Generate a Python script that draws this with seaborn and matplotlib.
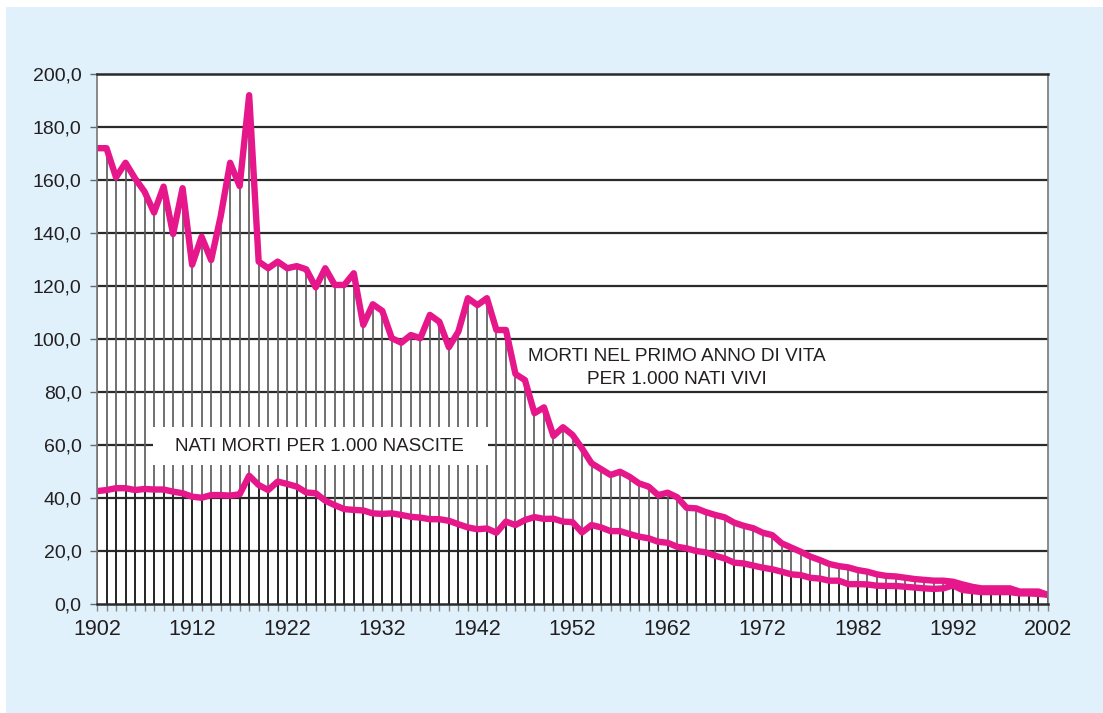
import numpy as np
import pandas as pd
import matplotlib
matplotlib.use("Agg")
import matplotlib.pyplot as plt
from matplotlib.patches import Rectangle
import seaborn as sns

years = list(range(1902, 2003))

infant_mortality = [
    172.0, 172.0, 161.0, 166.5, 160.6, 155.6, 147.7, 157.5, 139.6, 156.9,
    128.0, 138.6, 129.8, 146.2, 166.5, 157.7, 192.0, 129.2, 126.7, 129.2,
    126.7, 127.5, 126.3, 119.5, 126.7, 120.4, 120.4, 124.8, 105.3, 113.1,
    110.6, 100.3, 98.6, 101.5, 100.3, 109.1, 106.5, 96.9, 102.8, 115.4,
    112.8, 115.4, 103.4, 103.4, 86.8, 84.5, 72.0, 74.2, 63.4, 66.7,
    63.8, 58.7, 53.1, 50.9, 48.7, 49.9, 48.0, 45.5, 44.3, 41.1,
    42.0, 40.3, 36.3, 36.1, 34.7, 33.6, 32.7, 30.7, 29.5, 28.6,
    26.9, 26.0, 22.9, 21.3, 19.7, 17.9, 16.6, 15.1, 14.3, 13.8,
    12.8, 12.2, 11.2, 10.6, 10.4, 9.9, 9.4, 9.1, 8.8, 8.8,
    8.4, 7.4, 6.5, 5.9, 5.9, 5.9, 5.9, 4.7, 4.7, 4.7,
    3.4,
]

stillbirths = [
    42.6, 43.0, 43.7, 43.7, 43.0, 43.4, 43.2, 43.2, 42.4, 41.8,
    40.5, 40.1, 41.1, 41.1, 40.9, 41.4, 48.4, 44.9, 43.0, 46.2,
    45.3, 44.3, 42.1, 41.8, 39.0, 37.3, 35.8, 35.5, 35.3, 34.2,
    34.0, 34.2, 33.6, 32.9, 32.6, 32.0, 32.0, 31.4, 30.1, 28.9,
    28.2, 28.5, 26.9, 31.1, 29.8, 31.7, 32.8, 32.1, 32.2, 31.1,
    30.9, 27.0, 29.8, 28.9, 27.5, 27.5, 26.4, 25.4, 24.8, 23.5,
    23.1, 21.6, 21.0, 20.0, 19.5, 18.2, 17.2, 15.6, 15.3, 14.5,
    13.7, 13.1, 12.2, 11.2, 10.9, 9.9, 9.6, 8.8, 8.8, 7.5,
    7.5, 7.4, 6.9, 6.8, 6.8, 6.5, 6.2, 5.9, 5.7, 5.9,
    7.0, 5.3, 4.9, 4.5, 4.5, 4.5, 4.5, 4.0, 4.0, 3.8,
    3.5,
]

y_ticks = [0, 20, 40, 60, 80, 100, 120, 140, 160, 180, 200]
y_tick_labels = ["0,0", "20,0", "40,0", "60,0", "80,0", "100,0",
                 "120,0", "140,0", "160,0", "180,0", "200,0"]
x_ticks = [1902, 1912, 1922, 1932, 1942, 1952, 1962, 1972, 1982, 1992, 2002]

label_infant = "MORTI NEL PRIMO ANNO DI VITA\nPER 1.000 NATI VIVI"
label_still = "NATI MORTI PER 1.000 NASCITE"

df = pd.DataFrame({"anno": years, "infant": infant_mortality, "still": stillbirths})

sns.set_style("white")
plt.rcParams["font.family"] = ["Liberation Sans", "DejaVu Sans"]

LINE = "#E6178A"
PANEL = "#E0F1FB"

fig = plt.figure(figsize=(11.03, 7.13), dpi=100)
fig.patch.set_facecolor("white")
fig.add_artist(Rectangle((6 / 1103, 0), 1 - 6 / 1103, 1 - 7 / 713,
                         transform=fig.transFigure, facecolor=PANEL,
                         edgecolor="none", zorder=-10))

ax = fig.add_axes([97 / 1103, 1 - 604 / 713, (1048 - 97) / 1103, (604 - 74) / 713])
ax.set_facecolor("white")

# horizontal grid
for yv in y_ticks[1:-1]:
    ax.axhline(yv, color="#2a2a2a", lw=1.6, zorder=1)

# drop lines
ax.vlines(df["anno"], 0, df["infant"], color="#5e5e5e", lw=1.25, zorder=2)
ax.vlines(df["anno"], 0, df["still"], color="#1e1e1e", lw=1.25, zorder=2.1)

sns.lineplot(data=df, x="anno", y="infant", ax=ax, color=LINE, lw=4.6,
             zorder=5, solid_joinstyle="round")
sns.lineplot(data=df, x="anno", y="still", ax=ax, color=LINE, lw=4.6,
             zorder=5, solid_joinstyle="round")

# white label box for stillbirths
ax.add_patch(Rectangle((1907.9, 52.5), 35.2, 14.3, facecolor="white",
                       edgecolor="none", zorder=3))
ax.text(1925.4, 59.5, label_still, ha="center", va="center",
        fontsize=13.5, color="#231f20", zorder=6)
ax.text(1963.0, 88.9, label_infant, ha="center", va="center",
        fontsize=13.7, color="#231f20", zorder=6, linespacing=1.45)

ax.set_xlim(1902, 2002)
ax.set_ylim(0, 200)
ax.set_xlabel("")
ax.set_ylabel("")
ax.set_yticks(y_ticks)
ax.set_yticklabels(y_tick_labels, fontsize=14, color="#231f20")
ax.set_xticks(x_ticks)
ax.set_xticklabels([str(x) for x in x_ticks], fontsize=15.5, color="#231f20")
ax.set_xticks(years, minor=True)
ax.tick_params(axis="x", which="both", direction="out", length=5, width=1,
               color="#888888", pad=6, bottom=True)
ax.tick_params(axis="y", which="major", direction="out", length=5, width=1,
               color="#666666", pad=6, left=True)

for side in ["left", "right"]:
    ax.spines[side].set_color("#777777")
    ax.spines[side].set_linewidth(1.2)
for side in ["top", "bottom"]:
    ax.spines[side].set_color("#2a2a2a")
    ax.spines[side].set_linewidth(1.8)
for s in ax.spines.values():
    s.set_zorder(7)

fig.savefig("out.png", dpi=100)
